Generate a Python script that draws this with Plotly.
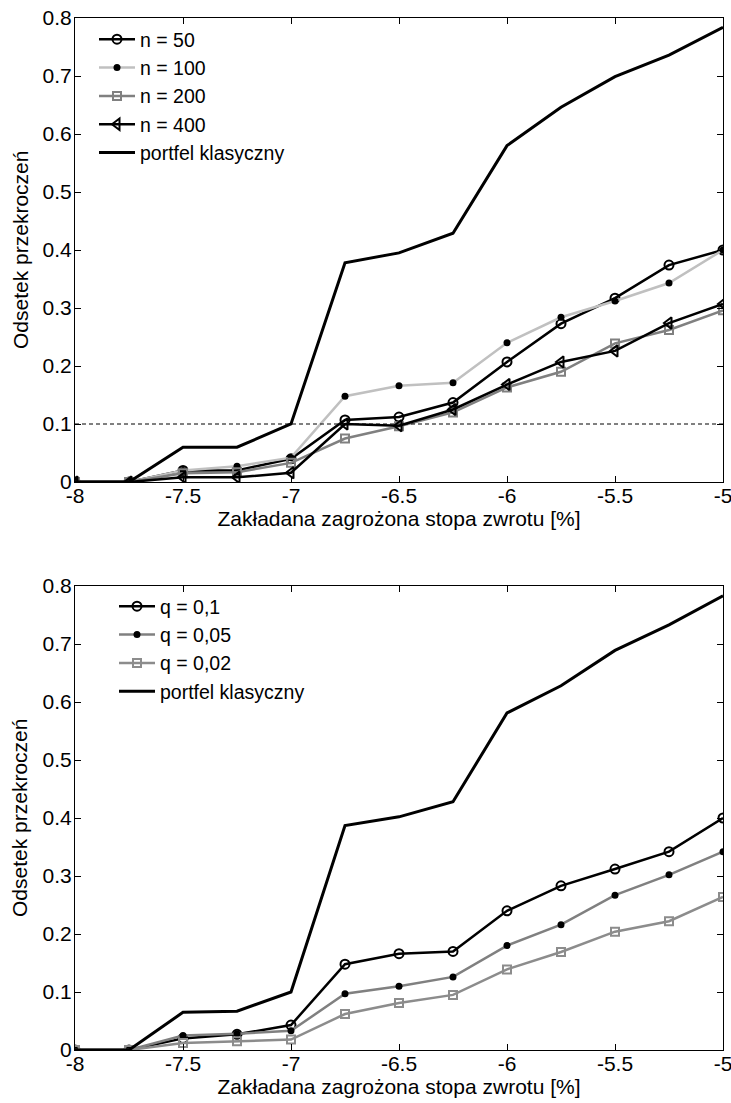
import plotly.graph_objects as go

x_vals = [-8, -7.75, -7.5, -7.25, -7, -6.75, -6.5, -6.25, -6, -5.75, -5.5, -5.25, -5]

# Top panel
n50 = [0, 0, 0.020, 0.020, 0.040, 0.107, 0.112, 0.137, 0.207, 0.273, 0.317, 0.374, 0.400]
n100 = [0, 0, 0.020, 0.027, 0.042, 0.148, 0.166, 0.171, 0.240, 0.284, 0.312, 0.343, 0.400]
n200 = [0, 0, 0.015, 0.017, 0.033, 0.075, 0.096, 0.120, 0.163, 0.190, 0.239, 0.262, 0.296]
n400 = [0, 0, 0.008, 0.008, 0.016, 0.100, 0.097, 0.125, 0.168, 0.207, 0.226, 0.274, 0.307]
classic_top = [0, 0, 0.060, 0.060, 0.100, 0.378, 0.395, 0.429, 0.580, 0.646, 0.699, 0.736, 0.784]
threshold = 0.1

# Bottom panel
q10 = [0, 0, 0.020, 0.027, 0.043, 0.148, 0.166, 0.170, 0.240, 0.283, 0.312, 0.342, 0.400]
q05 = [0, 0, 0.025, 0.028, 0.033, 0.097, 0.110, 0.126, 0.180, 0.216, 0.267, 0.302, 0.342]
q02 = [0, 0, 0.012, 0.015, 0.018, 0.062, 0.081, 0.095, 0.139, 0.169, 0.204, 0.222, 0.264]
classic_bot = [0, 0, 0.065, 0.067, 0.100, 0.387, 0.402, 0.428, 0.581, 0.628, 0.689, 0.733, 0.783]

x_ticks = [-8, -7.5, -7, -6.5, -6, -5.5, -5]
x_ticktext = ["-8", "-7.5", "-7", "-6.5", "-6", "-5.5", "-5"]
y_ticks = [0, 0.1, 0.2, 0.3, 0.4, 0.5, 0.6, 0.7, 0.8]
y_ticktext = ["0", "0.1", "0.2", "0.3", "0.4", "0.5", "0.6", "0.7", "0.8"]

FONT = "Liberation Sans, Arial, sans-serif"
FS = 21
LFS = 19.5
BLACK = "#000000"
LGRAY = "#c0c0c0"
MGRAY = "#808080"
Q02GRAY = "#8c8c8c"

fig = go.Figure()

def add(y, name, color, lw, symbol, msize, mcolor, mlw, xa, ya, legend, mode="lines+markers"):
    fig.add_trace(go.Scatter(
        x=x_vals, y=y, name=name, mode=mode,
        line=dict(color=color, width=lw),
        marker=dict(symbol=symbol, size=msize, color=mcolor,
                    line=dict(color=mcolor, width=mlw)),
        xaxis=xa, yaxis=ya, legend=legend))

# top
add(n50, "n = 50", BLACK, 2.5, "circle-open", 9, BLACK, 2, "x", "y", "legend")
add(n100, "n = 100", LGRAY, 2.5, "circle", 7, BLACK, 0, "x", "y", "legend")
add(n200, "n = 200", MGRAY, 2.5, "square-open", 8, MGRAY, 2, "x", "y", "legend")
add(n400, "n = 400", BLACK, 2.5, "triangle-left-open", 10, BLACK, 2, "x", "y", "legend")
fig.add_trace(go.Scatter(x=x_vals, y=classic_top, name="portfel klasyczny", mode="lines",
                         line=dict(color=BLACK, width=3), xaxis="x", yaxis="y", legend="legend"))
fig.add_trace(go.Scatter(x=[x_vals[0], x_vals[-1]], y=[threshold, threshold], mode="lines",
                         line=dict(color=BLACK, width=1, dash="4px,3px"), showlegend=False,
                         xaxis="x", yaxis="y", hoverinfo="skip"))

# bottom
add(q10, "q = 0,1", BLACK, 2.5, "circle-open", 9, BLACK, 2, "x2", "y2", "legend2")
add(q05, "q = 0,05", MGRAY, 2.5, "circle", 7, BLACK, 0, "x2", "y2", "legend2")
add(q02, "q = 0,02", Q02GRAY, 2.5, "square-open", 8, Q02GRAY, 2, "x2", "y2", "legend2")
fig.add_trace(go.Scatter(x=x_vals, y=classic_bot, name="portfel klasyczny", mode="lines",
                         line=dict(color=BLACK, width=3), xaxis="x2", yaxis="y2", legend="legend2"))

W, H = 731, 1103
xd = [75 / W, 723 / W]
yd_top = [1 - 482 / H, 1 - 18 / H]
yd_bot = [1 - 1050 / H, 1 - 586 / H]

axis_common = dict(showline=True, linecolor=BLACK, linewidth=1, mirror="ticks",
                   ticks="inside", ticklen=6, tickcolor=BLACK, showgrid=False,
                   zeroline=False, tickfont=dict(family=FONT, size=FS, color=BLACK),
                   ticklabeloverflow="allow", automargin=False)

xt = dict(text="Zakładana zagrożona stopa zwrotu [%]", font=dict(family=FONT, size=FS, color=BLACK), standoff=3)

fig.update_layout(
    width=W, height=H,
    margin=dict(l=0, r=0, t=0, b=0, autoexpand=False),
    paper_bgcolor="white", plot_bgcolor="white",
    font=dict(family=FONT, color=BLACK),
    xaxis=dict(domain=xd, anchor="y", range=[-8, -5], tickvals=x_ticks, ticktext=x_ticktext,
               title=xt, ticklabelstandoff=-5, **axis_common),
    yaxis=dict(domain=yd_top, anchor="x", range=[0, 0.8], tickvals=y_ticks, ticktext=y_ticktext,
               ticklabelstandoff=-2, **axis_common),
    xaxis2=dict(domain=xd, anchor="y2", range=[-8, -5], tickvals=x_ticks, ticktext=x_ticktext,
                title=xt, ticklabelstandoff=-5, **axis_common),
    yaxis2=dict(domain=yd_bot, anchor="x2", range=[0, 0.8], tickvals=y_ticks, ticktext=y_ticktext,
                ticklabelstandoff=-2, **axis_common),
    legend=dict(x=94 / W, y=1 - 20 / H, xanchor="left", yanchor="top", bgcolor="rgba(0,0,0,0)",
                font=dict(family=FONT, size=LFS, color=BLACK), tracegroupgap=0, itemwidth=36,
                traceorder="normal"),
    legend2=dict(x=114 / W, y=1 - 587 / H, xanchor="left", yanchor="top", bgcolor="rgba(0,0,0,0)",
                 font=dict(family=FONT, size=LFS, color=BLACK), tracegroupgap=0, itemwidth=36,
                 traceorder="normal"),
    annotations=[
        dict(text="Odsetek przekroczeń", textangle=-90, x=20 / W, y=(yd_top[0] + yd_top[1]) / 2,
             xref="paper", yref="paper", xanchor="center", yanchor="middle", showarrow=False,
             font=dict(family=FONT, size=FS, color=BLACK)),
        dict(text="Odsetek przekroczeń", textangle=-90, x=20 / W, y=(yd_bot[0] + yd_bot[1]) / 2,
             xref="paper", yref="paper", xanchor="center", yanchor="middle", showarrow=False,
             font=dict(family=FONT, size=FS, color=BLACK)),
    ],
)

fig.write_html("out.html")
